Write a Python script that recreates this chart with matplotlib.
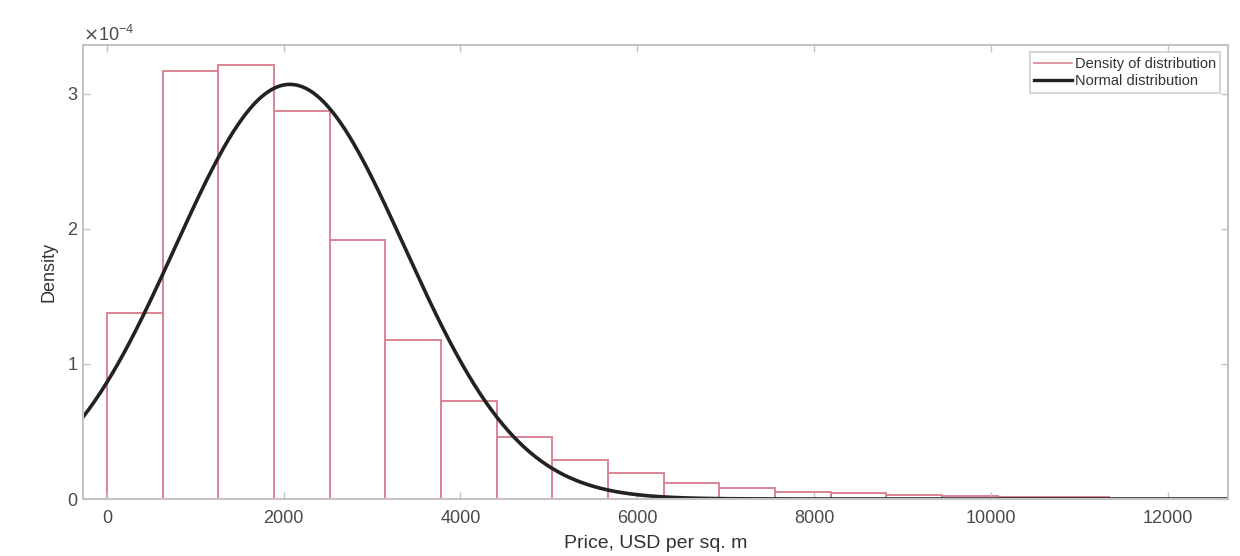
import numpy as np
import matplotlib.pyplot as plt
from matplotlib.ticker import ScalarFormatter
from matplotlib.lines import Line2D

plt.rcParams['font.family'] = ['Liberation Sans', 'DejaVu Sans']

# histogram of price density (bins of 630 USD starting at 0)
bin_width = 630.
bin_start = 0.
density = [1.375, 3.17, 3.21, 2.87, 1.92, 1.178, 0.727, 0.457, 0.289,
           0.19, 0.12, 0.079, 0.054, 0.042, 0.032, 0.025, 0.018, 0.015]
scale = 1e-4

# fitted normal distribution
mu = 2070.
sigma = 1300.

x_min = -270
x_max = 12680
y_max = 3.36e-4

spine_col = '#c4c4c4'
text_col = '#4a4a4a'
bar_col = '#d98594'
curve_col = '#222222'


def plot_density():
    fig = plt.figure(figsize=(12.4, 5.56), dpi=100)
    ax = fig.add_axes([0.067, 0.1025, 0.923, 0.8165])

    heights = np.array(density) * scale
    lefts = bin_start + bin_width * np.arange(len(heights))
    ax.bar(lefts, heights, width=bin_width, align='edge', fill=False,
           edgecolor=bar_col, linewidth=1.4)

    xs = np.linspace(x_min, x_max, 800)
    pdf = np.exp(-0.5 * ((xs - mu) / sigma) ** 2) / (sigma * np.sqrt(2 * np.pi))
    ax.plot(xs, pdf, color=curve_col, linewidth=2.6)

    ax.set_xlim(x_min, x_max)
    ax.set_ylim(0, y_max)
    ax.set_xticks([0, 2000, 4000, 6000, 8000, 10000, 12000])
    ax.set_yticks([0, 1e-4, 2e-4, 3e-4])

    fmt = ScalarFormatter(useMathText=True)
    fmt.set_powerlimits((0, 0))
    ax.yaxis.set_major_formatter(fmt)
    ax.yaxis.get_offset_text().set_fontsize(13)
    ax.yaxis.get_offset_text().set_color(text_col)

    for s in ax.spines.values():
        s.set_color(spine_col)
        s.set_linewidth(1.5)
    ax.tick_params(direction='in', length=5, width=1.0, color=spine_col,
                   top=True, right=True, labelsize=13, labelcolor=text_col)
    ax.tick_params(axis='x', pad=8)

    ax.set_xlabel('Price, USD per sq. m', fontsize=14, color='#333333', labelpad=6)
    ax.set_ylabel('Density', fontsize=13, color='#333333', labelpad=7)

    handles = [Line2D([], [], color=bar_col, linewidth=1.2),
               Line2D([], [], color=curve_col, linewidth=2.4)]
    leg = ax.legend(handles, ['Density of distribution', 'Normal distribution'],
                    loc='upper right', fontsize=10.5, frameon=True, fancybox=False,
                    borderpad=0.3, handlelength=2.6, handletextpad=0.2,
                    labelspacing=0.25, borderaxespad=0.5)
    leg.get_frame().set_edgecolor(spine_col)
    leg.get_frame().set_linewidth(1.2)
    for t in leg.get_texts():
        t.set_color('#333333')

    fig.savefig('out.png')


if __name__ == '__main__':
    plot_density()
